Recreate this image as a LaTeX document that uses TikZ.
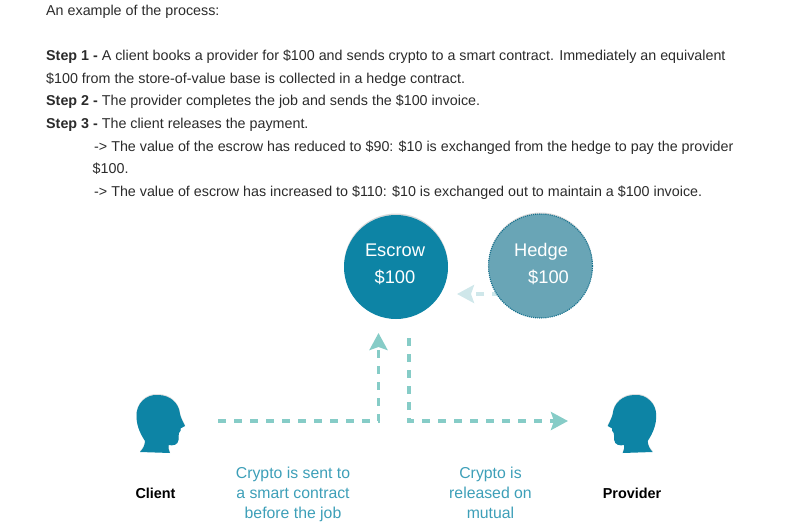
\documentclass[tikz,border=0pt]{standalone}
\usepackage{fontspec}
\setmainfont{Liberation Sans}
\usetikzlibrary{arrows.meta}
\usetikzlibrary{shadows}
\definecolor{headblue}{HTML}{0D84A5}
\definecolor{hedgeblue}{HTML}{69A5B6}
\definecolor{hedgeline}{HTML}{136F8C}
\definecolor{flowgreen}{HTML}{86CCC7}
\definecolor{fadedgreen}{HTML}{CFE7EA}
\definecolor{captionblue}{HTML}{3D9FB8}
\definecolor{bodygray}{HTML}{2B2B2B}
\tikzset{line/.style = {anchor = base west, inner sep = 0, text = bodygray,
                        font = \fontsize{14.3}{17}\selectfont},
         flow/.style = {draw = flowgreen, line width = 3.5,
                        dash pattern = on 8 off 8,
                        -{Stealth[length=17, width=18, inset=3, sep=0]}},
         ball/.style = {circle, minimum size = 104, inner sep = 0,
                        drop shadow = {opacity = 0.3, shadow xshift = 0, shadow yshift = -1.5}},
         balltext/.style = {anchor = base, text = white, inner sep = 0,
                            font = \fontsize{18.3}{22}\selectfont},
         caption/.style = {align = center, inner sep = 0, text = captionblue,
                           font = \fontsize{15.8}{20}\selectfont},
         who/.style = {inner sep = 0, text = black,
                       font = \fontsize{14.4}{17}\selectfont\bfseries},
         head/.pic = {
           \fill [headblue, drop shadow = {opacity = 0.25, shadow xshift = 0, shadow yshift = -1}]
           (-2, -30) .. controls (-14, -31) and (-24, -21) .. (-23.5, -9) ..
           controls (-23.5, -1) and (-21, 7) .. (-15, 16) ..
           controls (-15, 20) and (-17, 24) .. (-20, 27) --
           (10, 28) .. controls (8.5, 25) and (8, 22) .. (8.5, 20) ..
           controls (13, 21) and (18, 20) .. (18.5, 15) ..
           controls (19, 12) and (18, 10) .. (19, 8) ..
           controls (21, 6) and (21, 5) .. (20.5, 3.5) --
           (25, 1) .. controls (23, -3) and (20.5, -8) .. (20, -11) ..
           controls (19, -22) and (10, -30) .. (-2, -30) -- cycle;
         }}
\begin{document}
\begin{tikzpicture}[x=1pt, y=-1pt]
      \useasboundingbox (0, 0) rectangle (787, 527);

      \node [line] (intro) at (46, 16) {An example of the process:};
      \node [line] (stepa) at (46, 61) {\textbf{Step 1 -} A client books a provider for \$100 and sends crypto to a smart contract. Immediately an equivalent};
      \node [line] (stepb) at (46, 83) {\$100 from the store-of-value base is collected in a hedge contract.};
      \node [line] (stepc) at (46, 105) {\textbf{Step 2 -} The provider completes the job and sends the \$100 invoice.};
      \node [line] (stepd) at (46, 128) {\textbf{Step 3 -} The client releases the payment.};
      \node [line] (casea) at (94, 151) {-> The value of the escrow has reduced to \$90: \$10 is exchanged from the hedge to pay the provider};
      \node [line] (caseb) at (92.5, 173) {\$100.};
      \node [line] (casec) at (94, 196) {-> The value of escrow has increased to \$110: \$10 is exchanged out to maintain a \$100 invoice.};

      \coordinate (hedgeout) at (500, 294);
      \coordinate (hedgetip) at (457, 294);
      \draw [flow, draw = fadedgreen] (hedgeout) -- (hedgetip);

      \node [ball, fill = headblue] (escrow) at (396, 267) {};
      \node [ball, fill = hedgeblue, draw = hedgeline, densely dotted, line width = 1.1] (hedge) at (540.5, 266) {};
      \node [balltext] (escrowname) at (395, 256.5) {Escrow};
      \node [balltext] (escrowsum) at (395, 283.5) {\$100};
      \node [balltext] (hedgename) at (541, 256.5) {Hedge};
      \node [balltext] (hedgesum) at (548.5, 283.5) {\$100};

      \pic (clienthead) at (160, 425) {head};
      \pic [xscale=-1] (providerhead) at (632.7, 425) {head};

      \coordinate (clientout) at (218, 421);
      \coordinate (escrowin) at (378.5, 333);
      \coordinate (escrowout) at (409, 338);
      \coordinate (providerin) at (568, 421);
      \draw [flow] (clientout) -| (escrowin);
      \draw [flow] (escrowout) |- (providerin);

      \node [who] (client) at (155.5, 493) {Client};
      \node [who] (provider) at (632, 493) {Provider};
      \node [caption] (sent) at (293, 494) {Crypto is sent to\\a smart contract\\before the job};
      \node [caption] (released) at (490.5, 492.5) {Crypto is\\released on\\mutual};
    \end{tikzpicture}
\end{document}
